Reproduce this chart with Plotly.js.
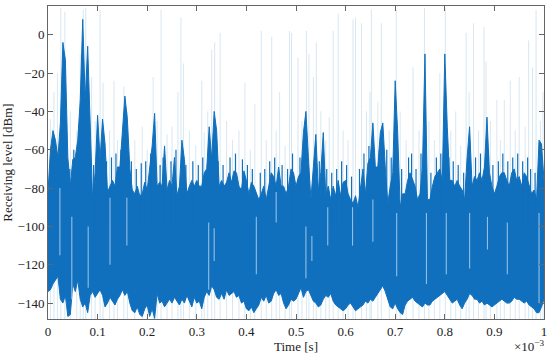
<!DOCTYPE html>
<html>
<head>
<meta charset="utf-8">
<script src="https://cdn.plot.ly/plotly-3.0.1.min.js"></script>
<style>html,body{margin:0;padding:0;background:#fff;}#chart{width:550px;height:359px;}</style>
</head>
<body>
<div id="chart"></div>
<script>
// Sample step of the envelope readings (ms)
const stepMs = 0.005;

// Upper envelope of the dark trace (dBm), one value per 0.005 ms from 0 to 1 ms
const levelHigh = [
  -82,-60,-50,-55,-64,-46,-4,-13,-64,-79,
  -65,-64,-55,-34,8,-34,-6,-51,-86,-72,
  -42,-65,-44,-57,-82,-79,-76,-79,-69,-69,
  -48,-32,-44,-70,-81,-83,-79,-84,-83,-77,
  -81,-69,-58,-41,-79,-77,-79,-58,-81,-76,
  -79,-64,-84,-79,-55,-65,-83,-79,-76,-79,
  -76,-79,-79,-72,-70,-48,-65,-40,-50,-79,
  -76,-79,-77,-72,-77,-71,-72,-79,-81,-71,
  -76,-83,-77,-79,-83,-86,-83,-79,-86,-79,
  -72,-74,-79,-69,-79,-79,-83,-79,-70,-72,
  -79,-74,-72,-51,-40,-64,-86,-69,-52,-81,
  -72,-51,-84,-79,-86,-79,-84,-76,-84,-77,
  -76,-83,-86,-88,-84,-90,-79,-70,-83,-67,
  -64,-46,-69,-69,-51,-46,-69,-88,-79,-72,
  -24,-51,-90,-83,-83,-76,-72,-76,-79,-86,
  -83,-69,-10,-86,-86,-79,-74,-72,-70,-76,
  -10,-48,-76,-76,-79,-76,-79,-81,-86,-64,
  -48,-79,-74,-76,-72,-76,-69,-43,-72,-79,
  -83,-79,-74,-72,-72,-76,-79,-72,-70,-76,
  -74,-79,-72,-74,-79,-83,-81,-86,-55,-57,
  -76
];

// Lower envelope of the dark trace (dBm)
const levelLow = [
  -134,-133,-130,-128,-126,-138,-140,-136,-147,-146,
  -130,-134,-128,-138,-142,-140,-145,-136,-134,-137,
  -135,-133,-136,-142,-140,-137,-139,-141,-138,-136,
  -133,-136,-134,-140,-144,-145,-142,-146,-147,-143,
  -141,-147,-143,-148,-135,-140,-139,-142,-140,-138,
  -140,-137,-139,-141,-138,-140,-136,-139,-142,-137,
  -140,-139,-143,-137,-134,-136,-131,-133,-137,-138,
  -135,-138,-133,-136,-135,-134,-137,-136,-140,-139,
  -143,-144,-142,-145,-143,-141,-137,-139,-136,-140,
  -139,-135,-133,-136,-135,-140,-143,-141,-138,-139,
  -138,-135,-132,-137,-134,-133,-136,-139,-140,-142,
  -141,-138,-136,-137,-135,-139,-141,-142,-143,-144,
  -143,-141,-140,-142,-144,-143,-142,-141,-139,-140,
  -138,-139,-137,-135,-133,-131,-134,-138,-142,-143,
  -140,-143,-145,-146,-141,-139,-138,-137,-139,-140,
  -141,-142,-140,-141,-141,-139,-138,-137,-136,-135,
  -134,-136,-138,-140,-139,-138,-141,-143,-140,-138,
  -135,-136,-138,-138,-140,-139,-141,-140,-141,-142,
  -141,-140,-139,-138,-139,-140,-140,-139,-137,-138,
  -138,-139,-140,-139,-141,-142,-143,-145,-145,-142,
  -138
];

// Thin dark spikes rising above the dense part: time (ms), peak (dBm)
const darkSpikeTime = [
  0.044,0.052,0.062,0.092,0.118,0.128,0.137,0.147,0.168,0.178,
  0.188,0.197,0.207,0.226,0.232,0.248,0.258,0.278,0.292,0.303,
  0.312,0.343,0.353,0.367,0.378,0.392,0.402,0.412,0.428,0.437,
  0.447,0.457,0.472,0.483,0.493,0.508,0.547,0.562,0.572,0.582,
  0.592,0.602,0.612,0.628,0.637,0.647,0.668,0.683,0.692,0.713,
  0.727,0.733,0.742,0.752,0.772,0.783,0.792,0.808,0.817,0.827,
  0.838,0.862,0.872,0.888,0.897,0.908,0.917,0.927,0.937,0.947,
  0.957,0.967,0.973,0.982
];
const darkSpikePeak = [
  -70,-60,-50,-68,-66,-64,-62,-60,-66,-70,
  -67,-66,-62,-68,-64,-66,-60,-68,-66,-68,
  -64,-66,-68,-64,-62,-65,-68,-70,-72,-70,
  -66,-64,-68,-70,-62,-64,-66,-70,-72,-70,
  -66,-68,-74,-70,-62,-58,-60,-60,-64,-70,
  -64,-62,-70,-62,-72,-64,-62,-64,-66,-68,
  -72,-64,-62,-60,-68,-66,-62,-66,-64,-62,
  -66,-64,-70,-72
];
const darkSpikeBase = -100;

// Pale slits (dips) inside the dense part: time (ms), upper and lower level (dBm)
const slitTime  = [0.024,0.048,0.081,0.125,0.159,0.324,0.335,0.420,0.460,0.520,0.532,0.564,0.614,0.655,0.703,0.763,0.803,0.850,0.886,0.926,0.990];
const slitUpper = [-80,-95,-100,-85,-85,-98,-101,-95,-82,-100,-105,-90,-90,-86,-93,-93,-93,-93,-95,-98,-93];
const slitLower = [-115,-138,-132,-120,-110,-133,-118,-125,-98,-127,-118,-110,-110,-108,-126,-130,-125,-122,-112,-125,-140];

// Faint (light) spikes: time (ms) and peak level (dBm)
const spikeTime = [
  0.005,0.012,0.019,0.026,0.034,0.045,0.058,0.065,0.071,0.076,
  0.088,0.095,0.105,0.111,0.124,0.133,0.140,0.153,0.160,0.175,
  0.190,0.200,0.212,0.220,0.228,0.240,0.250,0.262,0.268,0.273,
  0.285,0.298,0.310,0.315,0.322,0.330,0.336,0.347,0.360,0.372,
  0.385,0.397,0.408,0.417,0.430,0.440,0.451,0.460,0.467,0.478,
  0.487,0.491,0.504,0.512,0.521,0.526,0.535,0.541,0.550,0.560,
  0.567,0.575,0.585,0.595,0.605,0.615,0.620,0.632,0.642,0.649,
  0.652,0.665,0.672,0.688,0.702,0.710,0.722,0.736,0.748,0.759,
  0.768,0.779,0.790,0.801,0.812,0.822,0.832,0.843,0.849,0.858,
  0.868,0.879,0.883,0.892,0.905,0.912,0.920,0.932,0.942,0.950,
  0.962,0.969,0.977,0.984,0.993,0.998
];
const spikePeak = [
  -44,-30,-20,14,12,-40,-50,-10,13,14,
  -22,-45,13,-25,-50,-24,-55,-27,-40,-55,
  -48,-60,-22,-45,13,-52,-48,-30,9,-15,
  -50,-58,-24,-51,-40,-8,-4,1,-45,-55,
  -50,-25,-60,-36,2,-55,-1,-50,-30,-58,
  2,1,-12,-45,2,-10,-22,-4,-40,-55,
  -43,2,11,-50,-55,8,9,6,-40,-30,
  13,-35,6,-50,13,-40,-55,-17,-50,14,
  -45,-55,-20,14,-50,-40,-58,1,-30,6,
  -50,4,-14,-45,-34,-55,-34,-24,-50,-22,
  -48,-3,-17,13,-45,-30
];
const spikeFloor = -150;

// Axis ticks
const xTicks = [0,0.1,0.2,0.3,0.4,0.5,0.6,0.7,0.8,0.9,1];
const xTickText = ['0','0.1','0.2','0.3','0.4','0.5','0.6','0.7','0.8','0.9','1'];
const yTicks = [-140,-120,-100,-80,-60,-40,-20,0];

// ---- build traces ----
const time = levelHigh.map((_, i) => +(i * stepMs).toFixed(4));

function segments(ts, lo, hi) {
  const x = [], y = [];
  ts.forEach((t, i) => {
    x.push(t, t, null);
    y.push(Array.isArray(lo) ? lo[i] : lo, Array.isArray(hi) ? hi[i] : hi, null);
  });
  return {x, y};
}

const blue = '#1070bd';
const light = segments(spikeTime, spikeFloor, spikePeak);
const dark = segments(darkSpikeTime, darkSpikeBase, darkSpikePeak);
const slits = segments(slitTime, slitLower, slitUpper);

const traces = [
  {x: light.x, y: light.y, type: 'scatter', mode: 'lines', hoverinfo: 'skip',
   line: {color: 'rgba(140,185,215,0.35)', width: 1}},
  {x: time, y: levelLow, type: 'scatter', mode: 'lines', hoverinfo: 'skip',
   line: {color: blue, width: 1}},
  {x: time, y: levelHigh, type: 'scatter', mode: 'lines', hoverinfo: 'skip',
   fill: 'tonexty', fillcolor: blue, line: {color: blue, width: 1}},
  {x: dark.x, y: dark.y, type: 'scatter', mode: 'lines', hoverinfo: 'skip',
   line: {color: blue, width: 1.2}},
  {x: slits.x, y: slits.y, type: 'scatter', mode: 'lines', hoverinfo: 'skip',
   line: {color: 'rgba(170,205,235,0.85)', width: 1.1}}
];

const font = {family: 'Times New Roman, Liberation Serif, DejaVu Serif, serif', size: 13, color: '#222'};
const axisCommon = {
  showgrid: false, zeroline: false, showline: true, linecolor: '#666', linewidth: 1,
  mirror: 'ticks', ticks: 'inside', ticklen: 5, tickcolor: '#666', tickwidth: 1,
  tickfont: font
};

const layout = {
  width: 550, height: 359,
  margin: {l: 48, r: 6, t: 6, b: 40},
  paper_bgcolor: '#fff', plot_bgcolor: '#fff',
  showlegend: false,
  font: font,
  xaxis: Object.assign({}, axisCommon, {
    range: [0, 1], tickvals: xTicks, ticktext: xTickText,
    title: {text: 'Time [s]', font: font, standoff: 4}
  }),
  yaxis: Object.assign({}, axisCommon, {
    range: [-148.3, 15], tickvals: yTicks,
    title: {text: 'Receiving level [dBm]', font: font, standoff: 6}
  }),
  annotations: [{
    xref: 'paper', yref: 'paper', x: 1.005, y: -0.085, xanchor: 'right', yanchor: 'middle',
    text: '×10<sup>−3</sup>', showarrow: false, font: font
  }]
};

Plotly.newPlot('chart', traces, layout, {staticPlot: true, displayModeBar: false});
</script>
</body>
</html>
